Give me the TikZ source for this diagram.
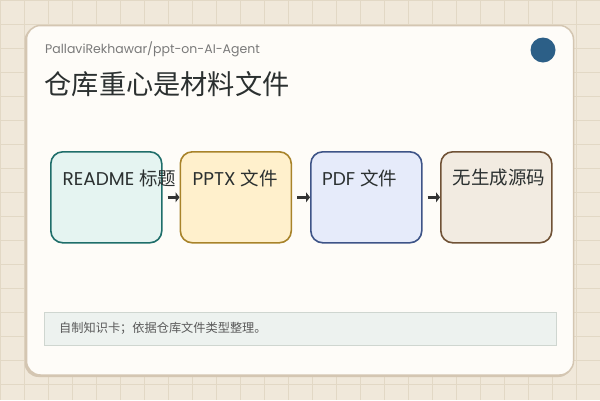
\documentclass[tikz,border=0pt]{standalone}
\usepackage{fontspec}
\setmainfont{Poppins}
\newfontfamily\cjk{Noto Sans CJK SC}
\newfontfamily\lat{Poppins}
\usetikzlibrary{arrows.meta}
\definecolor{bgc}{HTML}{F0E8DA}
\definecolor{gridc}{HTML}{E2D8C5}
\definecolor{cardc}{HTML}{FEFCF8}
\definecolor{cardb}{HTML}{D4C6B2}
\definecolor{dotc}{HTML}{2C5F87}
\definecolor{txt}{HTML}{2B3030}
\definecolor{hdr}{HTML}{7A7A7A}
\definecolor{fA}{HTML}{E5F4F1}\definecolor{bA}{HTML}{1F6E6A}
\definecolor{fB}{HTML}{FFF0CC}\definecolor{bB}{HTML}{A8832A}
\definecolor{fC}{HTML}{E6EBFA}\definecolor{bC}{HTML}{3E5487}
\definecolor{fD}{HTML}{F2EBE1}\definecolor{bD}{HTML}{705236}
\definecolor{footf}{HTML}{EDF2EF}
\definecolor{footb}{HTML}{CFD6D0}
\definecolor{foott}{HTML}{5A5A5A}
\definecolor{arr}{HTML}{333333}
\tikzset{
  stagebox/.style={draw, line width=1.6pt, rounded corners=12pt, minimum width=111pt, minimum height=91pt, inner sep=0pt, anchor=north west},
  stagetext/.style={anchor=west, inner sep=0pt, text=txt, font=\fontsize{18.5}{18}\selectfont},
  flow/.style={draw=arr, line width=2.6pt, -{Triangle[length=4pt,width=10pt]}, shorten <=5pt},
}
\begin{document}
\begin{tikzpicture}[x=1pt,y=-1pt]
\useasboundingbox (0,0) rectangle (600,400);
\fill[bgc] (0,0) rectangle (600,400);
\foreach \i in {0,24,...,600} \draw[gridc, line width=0.9pt] (\i,0) -- (\i,400);
\foreach \j in {0,24,...,400} \draw[gridc, line width=0.9pt] (0,\j) -- (600,\j);
% card
\fill[cardb, rounded corners=14pt] (24.5,26.5) rectangle (572.5,377);
\draw[fill=cardc, draw=cardb, line width=1.5pt, rounded corners=14pt] (26.5,25.5) rectangle (573.5,375);
\fill[dotc] (543,50) circle (12.5pt) node (dot) {};
\node[anchor=base west, inner sep=0pt, text=hdr, font=\fontsize{12.5}{12}\selectfont] (hd) at (45,53) {PallaviRekhawar/ppt-on-AI-Agent};
\node[anchor=west, inner sep=0pt, text=txt, font=\cjk\fontsize{27.2}{26}\selectfont] (title) at (44.5,84) {仓库重心是材料文件};
% boxes
\node[stagebox, fill=fA, draw=bA] (b1) at (50,151) {};
\node[stagebox, fill=fB, draw=bB] (b2) at (179.5,151) {};
\node[stagebox, fill=fC, draw=bC] (b3) at (310,151) {};
\node[stagebox, fill=fD, draw=bD] (b4) at (440,151) {};
\draw[flow] (b1.east) -- (b2.west);
\draw[flow] (b2.east) -- (b3.west);
\draw[flow] (b3.east) -- (b4.west);
\node[stagetext] (t1) at (62.5,178) {README {\cjk 标题}};
\node[stagetext] (t2) at (192.5,178) {PPTX {\cjk 文件}};
\node[stagetext] (t3) at (322,178) {PDF {\cjk 文件}};
\node[stagetext, font=\cjk\fontsize{18.5}{18}\selectfont] (t4) at (452.5,178) {无生成源码};
% footer
\node[draw=footb, fill=footf, line width=1pt, anchor=north west, minimum width=512pt, minimum height=33pt, inner sep=0pt] (foot) at (44,312) {};
\node[anchor=west, inner sep=0pt, text=foott, font=\cjk\fontsize{12.2}{12}\selectfont] (ft) at (59,328.5) {自制知识卡；依据仓库文件类型整理。};
\end{tikzpicture}
\end{document}
